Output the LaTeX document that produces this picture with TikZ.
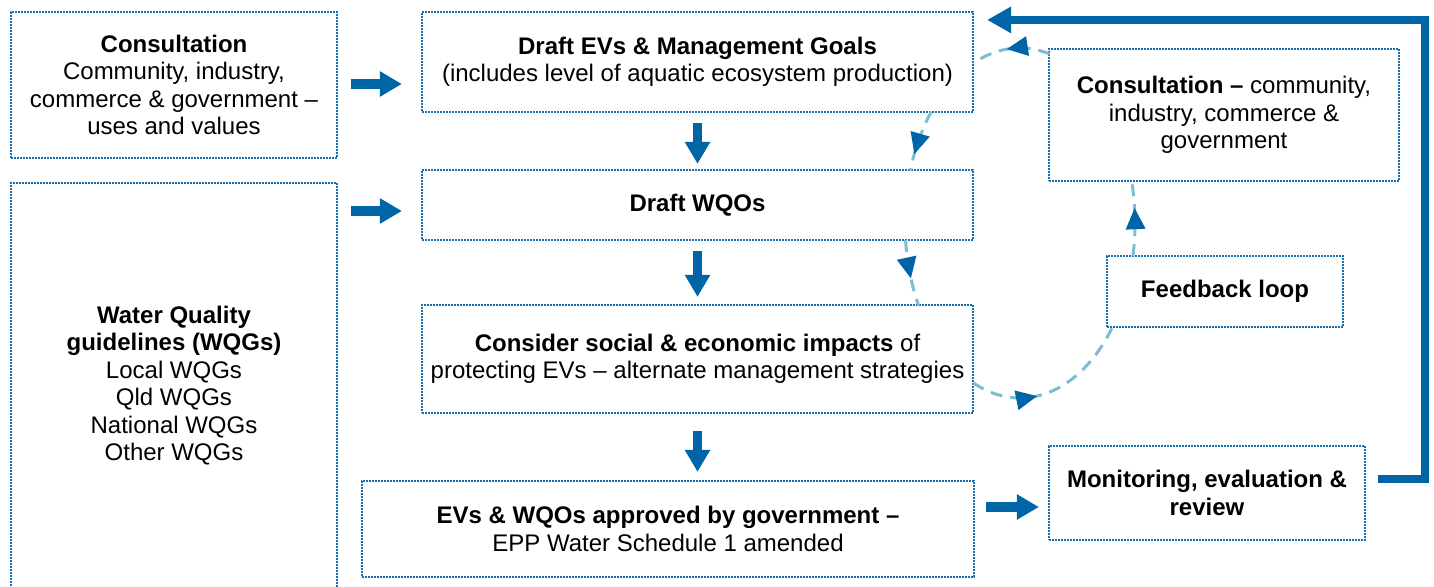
\documentclass[tikz,border=0pt]{standalone}
\usepackage{fontspec}
\setmainfont{Liberation Sans}
\usetikzlibrary{arrows.meta,decorations.markings,calc}
\definecolor{boxblue}{RGB}{25,110,175}
\definecolor{darkblue}{RGB}{0,101,166}
\definecolor{loopblue}{RGB}{125,189,209}
\tikzset{
  box/.style={draw=boxblue, line width=2.2pt, dash pattern=on 1.6pt off 1.4pt,
    align=center, inner sep=0pt, text=black, font=\fontsize{24}{27.5}\selectfont},
  blockarrow/.style={draw=darkblue, line width=9.5pt, -{Triangle[length=22pt,width=24pt]}},
  fbloop/.style={draw=loopblue, line width=3pt, dash pattern=on 12pt off 8pt,
    postaction={decorate},
    decoration={markings, mark=at position #1 with {\fill[darkblue] (2pt,0pt) -- (-19pt,10pt) -- (-19pt,-10pt) -- cycle;}}}
}
\begin{document}
\begin{tikzpicture}[x=1pt,y=1pt]
\useasboundingbox (0,0) rectangle (1434,-586);
\clip (0,0) rectangle (1434,-586);

\node[box, minimum width=326pt, minimum height=146pt] (cons) at (174,-85)
  {\textbf{Consultation}\\Community, industry,\\commerce \& government –\\uses and values};
\node[box, minimum width=326pt, minimum height=405pt] (wqg) at (174,-385.5)
  {\textbf{Water Quality}\\\textbf{guidelines (WQGs)}\\Local WQGs\\Qld WQGs\\National WQGs\\Other WQGs};
\node[box, minimum width=551pt, minimum height=100pt] (evs) at (697.5,-62)
  {\textbf{Draft EVs \& Management Goals}\\(includes level of aquatic ecosystem production)};
\node[box, minimum width=551pt, minimum height=70pt] (wqo) at (697.5,-205)
  {\textbf{Draft WQOs}};
\node[box, minimum width=551pt, minimum height=108pt] (soc) at (697.5,-359)
  {\textbf{Consider social \& economic impacts} of\\protecting EVs – alternate management strategies};
\node[box, minimum width=612pt, minimum height=96pt] (app) at (668,-529)
  {\textbf{EVs \& WQOs approved by government –}\\EPP Water Schedule 1 amended};
\node[box, minimum width=350pt, minimum height=132pt] (cons2) at (1224,-115)
  {\textbf{Consultation –} community,\\industry, commerce \&\\government};
\node[box, minimum width=236pt, minimum height=71pt] (fb) at (1225,-291.5)
  {\textbf{Feedback loop}};
\node[box, minimum width=316pt, minimum height=94pt] (mon) at (1207,-493)
  {\textbf{Monitoring, evaluation \&}\\\textbf{review}};

% solid block arrows
\draw[blockarrow] ($(cons.east)+(13,1)$) -- ($(cons.east -| evs.west)+(-19,1)$);
\draw[blockarrow] ($(wqg.east |- wqo.west)+(13,-6)$) -- ($(wqo.west)+(-19,-6)$);
\draw[blockarrow] ($(evs.south)+(0,-10)$) -- ($(wqo.north)+(0,5)$);
\draw[blockarrow] ($(wqo.south)+(0,-10)$) -- ($(soc.north)+(0,7)$);
\draw[blockarrow] ($(soc.south)+(0,-17)$) -- ($(soc.south |- app.north)+(0,8)$);
\draw[blockarrow] ($(app.east)+(11,22)$) -- ($(mon.west |- app.east)+(-9,22)$);

% big feedback arrow
\draw[draw=darkblue, line width=7.5pt, -{Triangle[length=24pt,width=25pt]}]
  ($(mon.east)+(12,14)$) -- ($(mon.east)+(59,14)$) |- ($(evs.north east)+(13,-9)$);

% dashed loop
\coordinate (lc) at (1020,-223);
\draw[fbloop=0.52] ($(lc)+(75:115 and 175)$) arc[start angle=75, end angle=114, x radius=115, y radius=175];
\draw[fbloop=0.7] ($(lc)+(140.6:115 and 175)$) arc[start angle=140.6, end angle=162.4, x radius=115, y radius=175];
\draw[fbloop=0.55] ($(lc)+(185.6:115 and 175)$) arc[start angle=185.6, end angle=208, x radius=115, y radius=175];
\draw[fbloop=0.38] ($(lc)+(246:115 and 175)$) arc[start angle=246, end angle=323, x radius=115, y radius=175];
\draw[fbloop=0.61] ($(lc)+(-10.9:115 and 175)$) arc[start angle=-10.9, end angle=13.9, x radius=115, y radius=175];
\end{tikzpicture}
\end{document}
